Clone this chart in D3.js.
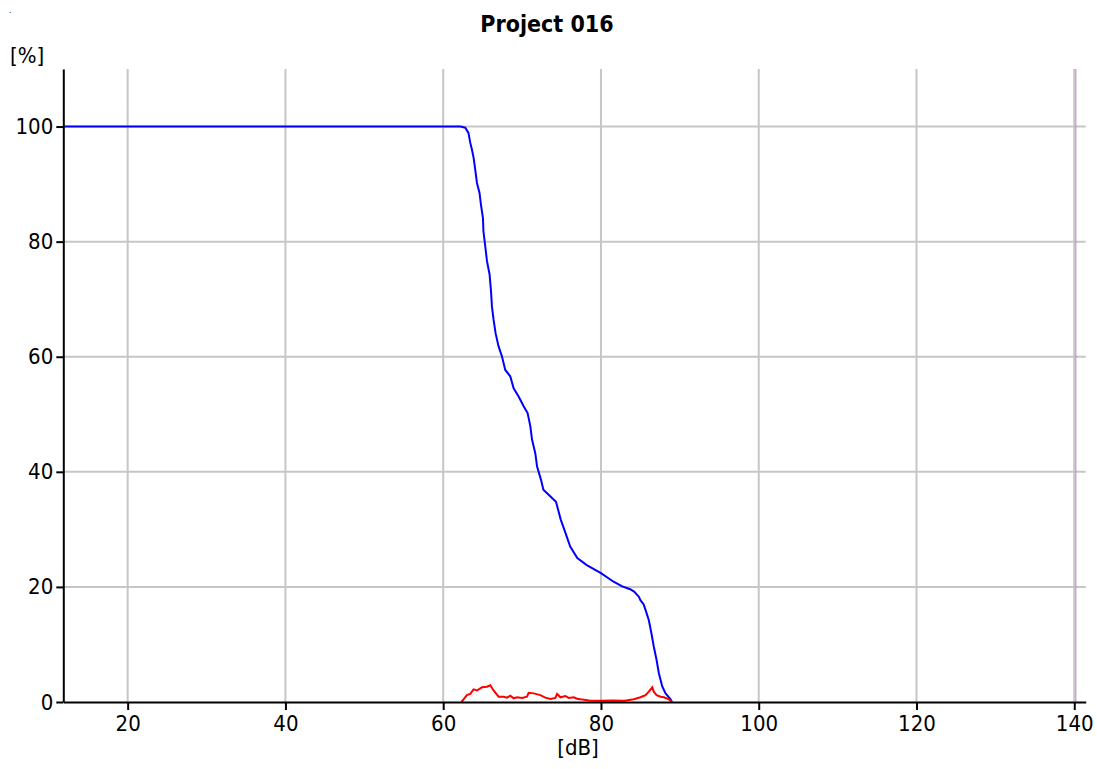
<!DOCTYPE html>
<html>
<head>
<meta charset="utf-8">
<script src="https://cdn.jsdelivr.net/npm/d3@7"></script>
<style>
  html, body { margin: 0; padding: 0; background: #fff; }
  svg { display: block; }
  text { font-family: "DejaVu Sans Condensed", "DejaVu Sans", sans-serif; fill: #000; }
</style>
</head>
<body>
<svg id="chart" width="1097" height="769"></svg>
<script>
// Cumulative level distribution: share of time [%] at or above each level [dB]
const cumLevelDb = [11.8, 62.2, 62.8, 63.2, 63.43, 63.64, 63.85, 64.06, 64.28, 64.6, 64.79,
  65.04, 65.1, 65.33, 65.55, 65.88, 66.06, 66.18, 66.39, 66.64, 67.02, 67.45, 67.87,
  68.5, 68.93, 69.56, 70.2, 70.7, 71.05, 71.26, 71.68, 71.9, 72.4, 72.7, 73.6, 74.3,
  74.9, 75.5, 76.1, 77.0, 78.2, 80.0, 81.6, 82.7, 83.7, 84.2, 84.8, 85.0, 85.4, 85.65,
  86.07, 86.4, 86.7, 87.05, 87.34, 87.77, 88.19, 88.8, 89.0];
const cumPercent = [100, 100, 99.8, 98.9, 97.2, 96.0, 94.6, 92.5, 90.2, 88.5, 86.4,
  84.1, 81.8, 79.2, 76.6, 74.3, 71.4, 68.7, 66.4, 64.1, 61.8, 60.05, 57.7,
  56.6, 54.5, 53.1, 51.4, 50.2, 47.9, 45.6, 43.2, 40.9, 38.6, 36.9, 35.7, 34.8,
  31.7, 29.4, 27.0, 25.0, 23.8, 22.4, 20.9, 20.1, 19.6, 19.2, 18.3, 17.7, 17.0, 16.0,
  14.2, 11.9, 9.6, 7.3, 5.0, 2.7, 1.5, 0.5, 0];

// Level distribution: share of time [%] per level class
const distLevelDb = [62.3, 62.58, 63.0, 63.43, 63.85, 64.28, 64.91, 65.55, 65.97, 66.39,
  67.02, 67.66, 68.09, 68.51, 68.93, 69.36, 69.99, 70.63, 70.83, 71.47, 72.32, 72.95,
  73.59, 74.22, 74.44, 74.86, 75.49, 75.9, 76.55, 76.97, 77.4, 78.5, 80, 81.5, 83,
  84.17, 85.0, 85.65, 86.07, 86.5, 86.7, 87.05, 87.56, 87.98, 88.6, 89.0];
const distPercent = [0, 0.47, 1.2, 1.4, 2.2, 2.0, 2.55, 2.65, 2.9, 2.0,
  0.92, 0.92, 0.75, 1.1, 0.64, 0.82, 0.7, 0.92, 1.6, 1.5, 1.2, 0.75,
  0.52, 0.7, 1.4, 0.82, 1.04, 0.7, 0.82, 0.57, 0.47, 0.25, 0.2, 0.25, 0.2,
  0.47, 0.82, 1.2, 1.8, 2.55, 1.8, 1.2, 0.92, 0.82, 0.47, 0];

// Reference level marker [dB]
const markerDb = [140.2];

const xTicks = [20, 40, 60, 80, 100, 120, 140];
const yTicks = [0, 20, 40, 60, 80, 100];
const xDomain = [11.84, 141.45];
const yDomain = [0, 110];

const titleText = "Project 016";
const xLabel = "[dB]";
const yLabel = "[%]";

const svg = d3.select("#chart");
const plotLeft = 63.3, plotRight = 1085.7, plotTop = 69, plotBottom = 702;

const x = d3.scaleLinear().domain(xDomain).range([plotLeft, plotRight]);
const y = d3.scaleLinear().domain(yDomain).range([plotBottom, plotTop]);

// grid
const grid = svg.append("g").attr("stroke", "#c6c6c6").attr("stroke-width", 2);
grid.selectAll("line.v").data(xTicks).join("line").attr("class", "v")
  .attr("x1", d => x(d)).attr("x2", d => x(d))
  .attr("y1", y(yDomain[1])).attr("y2", y(0));
grid.selectAll("line.h").data(yTicks.filter(d => d > 0)).join("line").attr("class", "h")
  .attr("x1", x(xDomain[0])).attr("x2", x(xDomain[1]))
  .attr("y1", d => y(d)).attr("y2", d => y(d));

// marker line
svg.append("g").selectAll("line").data(markerDb).join("line")
  .attr("x1", d => x(d)).attr("x2", d => x(d))
  .attr("y1", y(yDomain[1])).attr("y2", y(0))
  .attr("stroke", "#c080c8").attr("stroke-width", 1);

// series
const lineGen = d3.line().x(d => x(d[0])).y(d => y(d[1]));
svg.append("path")
  .datum(d3.zip(cumLevelDb, cumPercent))
  .attr("d", lineGen)
  .attr("fill", "none").attr("stroke", "#0000ff").attr("stroke-width", 2);

svg.append("path")
  .datum(d3.zip(distLevelDb, distPercent))
  .attr("d", lineGen)
  .attr("fill", "none").attr("stroke", "#ff0000").attr("stroke-width", 2);

// axes
const xAxis = svg.append("g").attr("transform", `translate(0,${plotBottom})`)
  .call(d3.axisBottom(x).tickValues(xTicks).tickSize(8).tickSizeOuter(0).tickPadding(5));
const yAxis = svg.append("g").attr("transform", `translate(${plotLeft},0)`)
  .call(d3.axisLeft(y).tickValues(yTicks).tickSize(7).tickSizeOuter(0).tickPadding(3));
[xAxis, yAxis].forEach(g => {
  g.select(".domain").attr("stroke", "#000").attr("stroke-width", 2);
  g.selectAll(".tick line").attr("stroke", "#000").attr("stroke-width", 2);
  g.selectAll(".tick text").attr("font-size", 22)
    .attr("font-family", "DejaVu Sans Condensed, DejaVu Sans, sans-serif").attr("fill", "#000");
});

// labels
svg.append("text").attr("x", 547).attr("y", 32).attr("text-anchor", "middle")
  .attr("font-family", "DejaVu Sans, sans-serif")
  .attr("font-size", 23).attr("font-weight", "bold").text(titleText);
svg.append("text").attr("x", 10).attr("y", 63).attr("font-size", 22).text(yLabel);
svg.append("text").attr("x", 578).attr("y", 755).attr("text-anchor", "middle")
  .attr("font-size", 22).text(xLabel);
svg.append("text").attr("x", 9).attr("y", 13).attr("font-size", 8).text(".");
</script>
</body>
</html>
